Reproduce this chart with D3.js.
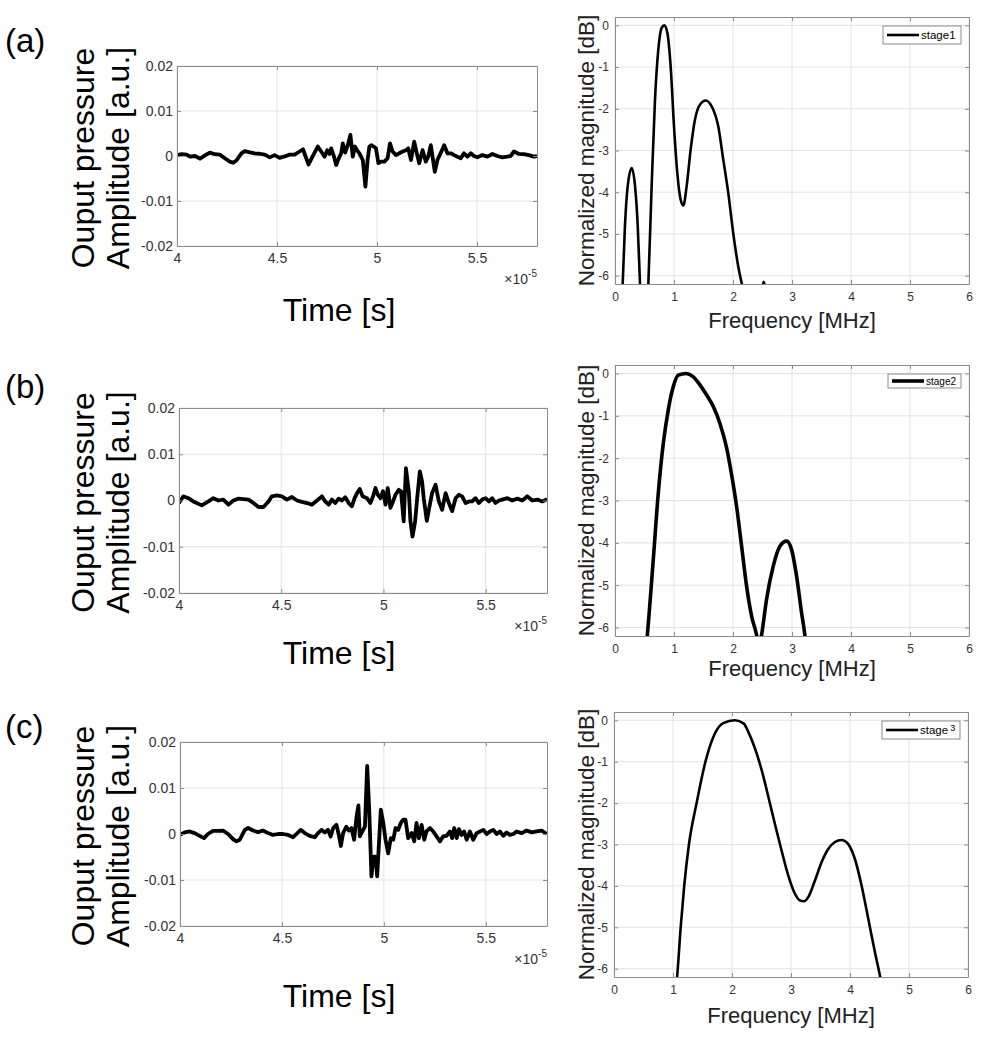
<!DOCTYPE html>
<html>
<head>
<meta charset="utf-8">
<script src="https://cdn.jsdelivr.net/npm/d3@7"></script>
<style>
  body { margin: 0; background: #fff; }
  svg { font-family: 'Liberation Sans', Arial, sans-serif; }
</style>
</head>
<body>
<svg id="chart" width="986" height="1043"></svg>
<script>
// time traces: time in units of 1e-5 s, amplitude in units of 1e-3 a.u.
const timeA = [4.00, 4.023, 4.048, 4.065, 4.09, 4.115, 4.14, 4.164, 4.189, 4.214,
  4.239, 4.264, 4.281, 4.297, 4.322, 4.339, 4.364, 4.389, 4.414, 4.439,
  4.464, 4.488, 4.513, 4.538, 4.563, 4.588, 4.613, 4.63, 4.646, 4.658,
  4.671, 4.688, 4.704, 4.721, 4.738, 4.751, 4.763, 4.771, 4.784, 4.796,
  4.807, 4.821, 4.829, 4.841, 4.854, 4.867, 4.879, 4.89, 4.9, 4.912,
  4.929, 4.942, 4.953, 4.962, 4.973, 4.983, 4.995, 5.007, 5.02, 5.037,
  5.053, 5.065, 5.078, 5.095, 5.111, 5.128, 5.145, 5.156, 5.17, 5.186,
  5.199, 5.211, 5.228, 5.244, 5.256, 5.269, 5.289, 5.302, 5.322, 5.336,
  5.352, 5.369, 5.386, 5.402, 5.419, 5.435, 5.452, 5.469, 5.485, 5.502,
  5.527, 5.552, 5.577, 5.602, 5.626, 5.651, 5.668, 5.685, 5.71, 5.735,
  5.759, 5.784, 5.80]
const ampA = [0.15, 0.4, 0.3, -0.15, 0, -0.6, 0.15, 0.75, 0.4, 0.3,
  -0.5, -1.25, -1.5, -1.0, 0.6, 1.1, 0.8, 0.6, 0.5, 0.3,
  -0.3, 0.2, -0.4, -0.1, 0.3, 0.3, 1.0, 1.5, -0.5, -1.9,
  -0.7, 0.75, 2.1, 1.0, -0.15, 1.3, 0.45, 1.7, 0, -2.0,
  -0.7, 0.6, 2.8, 0.75, 2.4, 4.7, -0.15, 2.1, 1.3, 0.6,
  -0.9, -6.8, -0.9, 2.1, 2.4, 2.1, 1.7, -1.6, -1.25, -1.25,
  -0.5, 2.8, 1.0, 0.2, 0.6, 1.0, 1.3, 1.7, -0.9, 3.2,
  0.6, -1.6, 1.3, -1.25, -0.15, 2.4, -3.5, -0.9, 1.0, 2.4,
  0.6, 0.6, 0.2, -0.15, -0.5, 0.6, -0.15, 0.6, 0, -0.3,
  0.2, -0.15, 0.45, 0, -0.3, -0.15, 0, 1.0, 0.45, 0.4,
  0.2, -0.15, 0]

const timeB = [4.00, 4.021, 4.046, 4.07, 4.111, 4.144, 4.168, 4.193, 4.217, 4.242,
  4.266, 4.291, 4.315, 4.34, 4.364, 4.389, 4.413, 4.438, 4.454, 4.479,
  4.503, 4.528, 4.552, 4.577, 4.601, 4.626, 4.65, 4.675, 4.699, 4.715,
  4.732, 4.748, 4.764, 4.781, 4.797, 4.813, 4.83, 4.846, 4.859, 4.871,
  4.884, 4.898, 4.92, 4.936, 4.949, 4.961, 4.972, 4.985, 4.998, 5.01,
  5.021, 5.034, 5.047, 5.059, 5.075, 5.086, 5.099, 5.11, 5.124, 5.132,
  5.142, 5.155, 5.165, 5.178, 5.189, 5.197, 5.212, 5.227, 5.238, 5.255,
  5.271, 5.287, 5.304, 5.32, 5.336, 5.353, 5.369, 5.385, 5.402, 5.418,
  5.434, 5.45, 5.467, 5.483, 5.499, 5.516, 5.532, 5.548, 5.565, 5.581,
  5.606, 5.63, 5.655, 5.679, 5.704, 5.728, 5.753, 5.777, 5.80]
const ampB = [-0.55, 0.9, 0.5, -0.2, -1.05, -0.2, 0.5, 0, 0.2, -0.9,
  0, 0.4, 0.3, 0.2, -0.55, -1.4, -1.4, -0.2, 0.9, 1.1,
  0.9, 0.2, 0.75, 0, -0.3, -0.55, -0.9, 0, 0.9, -0.2,
  -0.9, 0.2, -0.55, 0.4, 0, 0.7, -0.55, -1.25, 0.5, 1.6,
  2.5, 0.9, 0.5, -0.55, 0.9, 2.7, 1.25, 0.5, 2.0, -0.9,
  2.7, -1.6, -0.2, 1.25, 2.3, 2.0, -4.5, 7.0, 2.0, -4.5,
  -7.8, -4.5, 0.5, 6.3, 4.1, 0.5, -4.4, -0.9, 1.6, 3.4,
  -0.2, -2.0, 1.6, -0.55, -2.3, 0.5, 1.25, 0.9, -0.55, -0.2,
  -0.2, 0.5, -0.55, 0.2, 0.5, -0.2, 0.5, -0.55, 0, 0.2,
  0.5, 0, 0.4, 0, 0.9, 0, 0.2, -0.2, 0.3]

const timeC = [4.00, 4.023, 4.047, 4.072, 4.096, 4.118, 4.137, 4.162, 4.186, 4.211,
  4.236, 4.26, 4.277, 4.293, 4.318, 4.334, 4.358, 4.383, 4.407, 4.432,
  4.456, 4.481, 4.505, 4.53, 4.555, 4.571, 4.592, 4.612, 4.636, 4.661,
  4.677, 4.694, 4.71, 4.726, 4.739, 4.751, 4.767, 4.779, 4.789, 4.80,
  4.816, 4.828, 4.841, 4.854, 4.866, 4.875, 4.882, 4.894, 4.907, 4.918,
  4.928, 4.939, 4.949, 4.959, 4.967, 4.975, 4.985, 4.997, 5.008, 5.021,
  5.034, 5.046, 5.057, 5.07, 5.083, 5.095, 5.106, 5.119, 5.136, 5.149,
  5.16, 5.172, 5.185, 5.198, 5.209, 5.226, 5.242, 5.258, 5.275, 5.291,
  5.307, 5.324, 5.335, 5.345, 5.357, 5.368, 5.381, 5.394, 5.406, 5.422,
  5.438, 5.455, 5.471, 5.488, 5.504, 5.52, 5.537, 5.553, 5.569, 5.586,
  5.602, 5.618, 5.635, 5.651, 5.676, 5.70, 5.725, 5.749, 5.774, 5.798]
const ampC = [-0.2, 0.35, 0.55, 0.2, -0.4, -0.9, 0, 0.7, 0.7, 0.75,
  0, -1.1, -1.6, -1.25, 0.9, 1.3, 0.75, 0.4, 0.75, 0.2,
  -0.2, 0, 0, -0.2, -0.7, 0, 0.9, 0.2, -0.4, -0.7,
  0.2, 0.9, 0.35, 0.9, -0.55, 1.3, 2.0, -0.2, -2.6, 0.2,
  1.6, 0.75, 1.3, -1.25, 3.8, 6.2, -0.5, 0.55, 1.6, 14.8,
  5.3, -9.2, -4.9, -4.9, -9.2, -2.7, 5.3, 2.4, -1.25, -4.2,
  -0.9, -1.25, 1.3, 0.9, 2.4, 3.1, 3.1, -0.9, 0.2, -1.6,
  2.4, -0.9, 2.0, -1.25, 0.55, 1.3, 0.55, -0.5, -1.6, -0.5,
  -0.4, 0.55, -0.9, 1.3, -0.9, 1.05, -0.2, 0.55, -1.25, 0.55,
  -1.25, 0.2, 0.55, 0.9, 0, 0.55, 0.9, 0, 0.55, -0.4,
  0.35, -0.2, 0, 0.55, 0.2, 0.75, 0.35, 0.55, 0.75, 0]

// spectra: frequency in MHz, normalized magnitude in dB
const freqA = [0.10, 0.13, 0.169, 0.215, 0.283, 0.34, 0.385, 0.424, 0.49, 0.565,
  0.621, 0.678, 0.734, 0.791, 0.836, 0.887, 0.943, 1.0, 1.056, 1.113,
  1.158, 1.214, 1.282, 1.355, 1.44, 1.536, 1.638, 1.75, 1.835, 1.92,
  2.004, 2.089, 2.151, 2.3, 2.45, 2.52, 2.59, 2.8, 3.2]
const magA = [-7.0, -6.2, -4.8, -3.86, -3.42, -3.86, -4.8, -6.2, -8.0, -6.2,
  -3.86, -1.78, -0.58, -0.06, 0, -0.18, -0.98, -2.42, -3.54, -4.18,
  -4.32, -3.86, -2.98, -2.26, -1.9, -1.8, -1.94, -2.42, -3.22, -4.02,
  -4.98, -5.78, -6.2, -7.0, -6.6, -6.15, -6.6, -8.0, -10.0]

const freqB = [0.45, 0.548, 0.649, 0.734, 0.819, 0.903, 0.988, 1.073, 1.2, 1.327,
  1.44, 1.553, 1.666, 1.779, 1.892, 1.976, 2.061, 2.146, 2.23, 2.315,
  2.4, 2.44, 2.484, 2.569, 2.682, 2.795, 2.908, 2.993, 3.077, 3.162,
  3.218, 3.3]
const magB = [-7.5, -6.18, -4.39, -2.82, -1.65, -0.86, -0.31, -0.04, 0, -0.08,
  -0.27, -0.51, -0.78, -1.18, -1.76, -2.39, -3.14, -4.08, -5.02, -5.73,
  -6.18, -6.5, -6.18, -5.33, -4.55, -4.08, -3.96, -4.16, -4.78, -5.65,
  -6.18, -7.5]

const freqC = [1.0, 1.072, 1.13, 1.19, 1.27, 1.40, 1.55, 1.70, 1.85, 2.05,
  2.2, 2.276, 2.389, 2.502, 2.615, 2.728, 2.841, 2.954, 3.067, 3.151,
  3.219, 3.293, 3.406, 3.518, 3.631, 3.744, 3.857, 3.97, 4.083, 4.196,
  4.309, 4.421, 4.506, 4.6]
const magC = [-7.0, -6.16, -5.0, -4.0, -3.0, -2.0, -1.0, -0.35, -0.07, 0,
  -0.08, -0.28, -0.68, -1.2, -1.84, -2.51, -3.15, -3.75, -4.19, -4.35,
  -4.37, -4.27, -3.87, -3.43, -3.11, -2.94, -2.89, -2.99, -3.35, -3.99,
  -4.79, -5.59, -6.16, -6.9]

const timeTicks = [4, 4.5, 5, 5.5]
const ampTicks = [-20, -10, 0, 10, 20]
const freqTicks = [0, 1, 2, 3, 4, 5, 6]
const magTicks = [-6, -5, -4, -3, -2, -1, 0]
const panelLetters = ['(a)', '(b)', '(c)']
const stageNames = ['stage1', 'stage2', 'stage']

const svg = d3.select('#chart')
let clipId = 0

const drawPanel = ({box, xDomain, yDomain, xTicks, yTicks, xFmt, yFmt, font, xPad, yPad, xs, ys, width}) => {
  const x = d3.scaleLinear().domain(xDomain).range([box.x0, box.x1])
  const y = d3.scaleLinear().domain(yDomain).range([box.y1, box.y0])
  const g = svg.append('g')

  g.append('rect')
    .attr('x', box.x0).attr('y', box.y0)
    .attr('width', box.x1 - box.x0).attr('height', box.y1 - box.y0)
    .attr('fill', '#fff')

  g.append('g').selectAll('line').data(xTicks).join('line')
    .attr('x1', d => x(d)).attr('x2', d => x(d))
    .attr('y1', box.y0).attr('y2', box.y1)
    .attr('stroke', '#e3e3e3')
  g.append('g').selectAll('line').data(yTicks).join('line')
    .attr('y1', d => y(d)).attr('y2', d => y(d))
    .attr('x1', box.x0).attr('x2', box.x1)
    .attr('stroke', '#e3e3e3')

  const id = 'clip' + (clipId++)
  g.append('clipPath').attr('id', id)
    .append('rect')
    .attr('x', box.x0).attr('y', box.y0)
    .attr('width', box.x1 - box.x0).attr('height', box.y1 - box.y0)

  const line = d3.line()
    .x(d => x(d[0]))
    .y(d => y(d[1]))
    .curve(width.curve)
  g.append('path')
    .datum(d3.zip(xs, ys))
    .attr('clip-path', `url(#${id})`)
    .attr('fill', 'none')
    .attr('stroke', '#000')
    .attr('stroke-width', width.stroke)
    .attr('stroke-linejoin', 'round')
    .attr('d', line)

  const styleAxis = sel => {
    sel.select('.domain').attr('stroke', '#8c8c8c')
    sel.selectAll('.tick line').attr('stroke', '#8c8c8c')
    sel.selectAll('text').attr('fill', '#333').attr('font-size', font)
      .attr('font-family', "'Liberation Sans', Arial, sans-serif")
  }
  g.append('g').attr('transform', `translate(0,${box.y1})`)
    .call(d3.axisBottom(x).tickValues(xTicks).tickFormat(xFmt)
      .tickSize(-4).tickSizeOuter(0).tickPadding(xPad))
    .call(styleAxis)
  g.append('g').attr('transform', `translate(0,${box.y0})`)
    .call(d3.axisTop(x).tickValues(xTicks).tickFormat('')
      .tickSize(-4).tickSizeOuter(0))
    .call(styleAxis)
  g.append('g').attr('transform', `translate(${box.x0},0)`)
    .call(d3.axisLeft(y).tickValues(yTicks).tickFormat(yFmt)
      .tickSize(-4).tickSizeOuter(0).tickPadding(yPad))
    .call(styleAxis)
  g.append('g').attr('transform', `translate(${box.x1},0)`)
    .call(d3.axisRight(y).tickValues(yTicks).tickFormat('')
      .tickSize(-4).tickSizeOuter(0))
    .call(styleAxis)
  return g
}

const timeBoxes = [
  {x0: 177, x1: 537, y0: 66, y1: 246},
  {x0: 179, x1: 547, y0: 408, y1: 593},
  {x0: 180, x1: 547, y0: 742, y1: 926}
]
const freqBoxes = [
  {x0: 615, x1: 969, y0: 17, y1: 284},
  {x0: 615, x1: 969, y0: 365, y1: 636},
  {x0: 614, x1: 968, y0: 712, y1: 977}
]
const timeSeries = [[timeA, ampA], [timeB, ampB], [timeC, ampC]]
const freqSeries = [[freqA, magA], [freqB, magB], [freqC, magC]]
const freqStroke = [2.6, 3.6, 2.6]
const letterY = [52, 398, 738]
const timeLabelY = [321, 664, 1007]
const freqLabelY = [328, 676, 1023]

timeBoxes.forEach((box, i) => {
  drawPanel({
    box, xDomain: [4, 5.8], yDomain: [-20, 20],
    xTicks: timeTicks, yTicks: ampTicks,
    xFmt: d => String(d), yFmt: d => d === 0 ? '0' : (d / 1000).toFixed(2),
    font: 14, xPad: 7, yPad: 4,
    xs: timeSeries[i][0], ys: timeSeries[i][1],
    width: {stroke: 3.8, curve: d3.curveLinear}
  })
  const cy = (box.y0 + box.y1) / 2 + 2
  svg.append('text')
    .attr('transform', `translate(94,${cy}) rotate(-90)`)
    .attr('text-anchor', 'middle').attr('font-size', 32)
    .text('Ouput pressure')
  svg.append('text')
    .attr('transform', `translate(129,${cy}) rotate(-90)`)
    .attr('text-anchor', 'middle').attr('font-size', 32)
    .text('Amplitude [a.u.]')
  svg.append('text')
    .attr('x', 339).attr('y', timeLabelY[i])
    .attr('text-anchor', 'middle').attr('font-size', 32)
    .text('Time [s]')
  const ex = svg.append('text')
    .attr('x', box.x1).attr('y', box.y1 + 38)
    .attr('text-anchor', 'end').attr('font-size', 14).attr('fill', '#333')
  ex.append('tspan').text('×10')
  ex.append('tspan').attr('dy', -7).attr('font-size', 10).text('-5')
  svg.append('text')
    .attr('x', 5).attr('y', letterY[i])
    .attr('font-size', 33)
    .text(panelLetters[i])
})

freqBoxes.forEach((box, i) => {
  const g = drawPanel({
    box, xDomain: [0, 6], yDomain: [-6.2, 0.2],
    xTicks: freqTicks, yTicks: magTicks,
    xFmt: d => String(d), yFmt: d => String(d),
    font: 12, xPad: 8, yPad: 6,
    xs: freqSeries[i][0], ys: freqSeries[i][1],
    width: {stroke: freqStroke[i], curve: d3.curveMonotoneX}
  })
  const cy = (box.y0 + box.y1) / 2
  svg.append('text')
    .attr('transform', `translate(594,${cy}) rotate(-90)`)
    .attr('text-anchor', 'middle').attr('font-size', 22.5)
    .attr('fill', '#222')
    .text('Normalized magnitude [dB]')
  svg.append('text')
    .attr('x', (box.x0 + box.x1) / 2).attr('y', freqLabelY[i])
    .attr('text-anchor', 'middle').attr('font-size', 22)
    .attr('fill', '#222')
    .text('Frequency [MHz]')

  // legend
  const lw = i === 1 ? 73 : 78
  const lx = box.x1 - 8 - lw
  const ly = box.y0 + 9
  const lh = i === 1 ? 14 : 18
  g.append('rect')
    .attr('x', lx).attr('y', ly).attr('width', lw).attr('height', lh)
    .attr('fill', '#fff').attr('stroke', '#8c8c8c')
  g.append('line')
    .attr('x1', lx + 4).attr('x2', lx + 36)
    .attr('y1', ly + lh / 2).attr('y2', ly + lh / 2)
    .attr('stroke', '#000').attr('stroke-width', freqStroke[i])
  const t = g.append('text')
    .attr('x', lx + 38).attr('y', ly + lh / 2 + 4)
    .attr('font-size', i === 1 ? 10 : 11.5)
    .text(stageNames[i])
  if (i === 2) t.append('tspan').attr('dy', -3).attr('dx', 2).attr('font-size', 9).text('3')
})
</script>
</body>
</html>
